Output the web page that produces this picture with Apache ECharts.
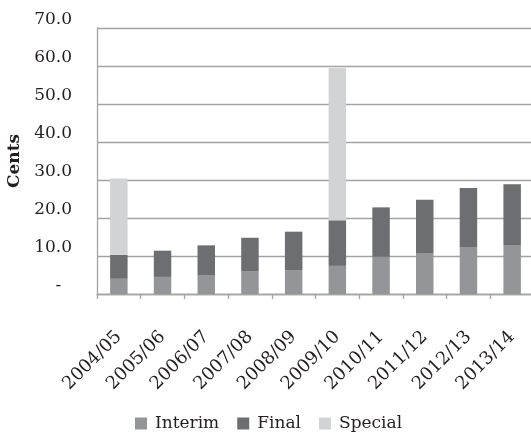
<!DOCTYPE html>
<html><head><meta charset="utf-8">
<script src="https://cdn.jsdelivr.net/npm/echarts@6/dist/echarts.min.js"></script>
<style>html,body{margin:0;padding:0;background:#fff}#c{width:531px;height:432px}</style>
</head><body><div id="c"></div>
<script>
const categories = ['2004/05','2005/06','2006/07','2007/08','2008/09','2009/10','2010/11','2011/12','2012/13','2013/14'];
const interim = [4.0, 4.5, 5.0, 5.9, 6.3, 7.4, 9.8, 10.8, 12.4, 12.9];
const finalDiv = [6.3, 6.9, 7.8, 8.9, 10.1, 12.0, 13.0, 14.0, 15.5, 16.0];
const special = [20.1, 0, 0, 0, 0, 40.1, 0, 0, 0, 0];
const yTicks = [0, 10, 20, 30, 40, 50, 60, 70];

const font = 'DejaVu Serif';
const chart = echarts.init(document.getElementById('c'));
const bar = (name, data, color) => ({
  name, type: 'bar', stack: 'd', data, barWidth: '40%',
  itemStyle: { color }, emphasis: { disabled: true }
});
chart.setOption({
  animation: false,
  textStyle: { fontFamily: font },
  grid: { left: 97, top: 28, right: -3, bottom: 138, outerBoundsMode: 'none', containLabel: false },
  legend: {
    top: 410, left: 130, itemWidth: 12, itemHeight: 12, itemGap: 18,
    icon: 'rect',
    textStyle: { fontFamily: font, fontSize: 17, color: '#231f20', padding: [0, 0, 0, 3] },
    data: ['Interim', 'Final', 'Special']
  },
  xAxis: {
    type: 'category', data: categories,
    axisLine: { lineStyle: { color: '#a3a3a3', width: 1.3 } },
    axisTick: { show: true, length: 5, lineStyle: { color: '#a3a3a3', width: 1.3 } },
    axisLabel: { rotate: 45, fontSize: 18, color: '#231f20', margin: 40, fontFamily: font, interval: 0, hideOverlap: false }
  },
  yAxis: {
    type: 'value', min: yTicks[0], max: yTicks[yTicks.length - 1], interval: 10,
    name: 'Cents', nameLocation: 'middle', nameGap: 67, nameRotate: 90,
    nameTextStyle: { fontFamily: font, fontSize: 17, fontWeight: 'bold', color: '#231f20' },
    axisLine: { show: true, lineStyle: { color: '#a3a3a3', width: 1.3 } },
    axisTick: { show: false },
    splitLine: { lineStyle: { color: '#a3a3a3', width: 1.3 } },
    axisLabel: {
      fontSize: 17, color: '#231f20', margin: 25, fontFamily: font, verticalAlign: 'bottom',
      formatter: v => v === 0 ? '-  ' : v.toFixed(1)
    }
  },
  series: [
    bar('Interim', interim, '#939598'),
    bar('Final', finalDiv, '#6d6e71'),
    bar('Special', special, '#d1d3d4')
  ]
});
</script></body></html>
